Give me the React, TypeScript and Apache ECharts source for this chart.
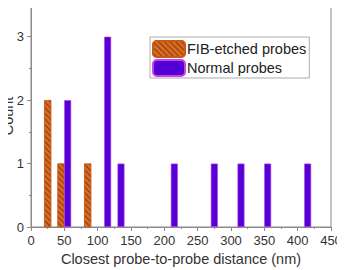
import React, { useEffect, useRef } from "react";
import * as echarts from "echarts";

const fibCenters = [25, 45, 85];
const fibCounts = [2, 1, 1];
const normalCenters = [55, 115, 135, 215, 275, 315, 355, 415];
const normalCounts = [2, 3, 1, 1, 1, 1, 1, 1];
const seriesNames = ["FIB-etched probes", "Normal probes"];
const xTitle = "Closest probe-to-probe distance (nm)";
const yTitle = "Count";

export default function App() {
  const ref = useRef<HTMLDivElement>(null);
  useEffect(() => {
    if (!ref.current) return;
    const chart = echarts.init(ref.current, null, { renderer: "svg" });
    const font = "Liberation Sans, Arial, sans-serif";
    const axisColor = "#8a8a8a";
    chart.setOption({
      animation: false,
      textStyle: { fontFamily: font },
      grid: {
        left: 31,
        right: 14,
        top: 5,
        bottom: 43,
        show: true,
        borderColor: axisColor,
        borderWidth: 1,
        outerBoundsMode: "none",
        containLabel: false,
      },
      graphic: [
        {
          type: "text",
          x: 8,
          y: 116,
          rotation: Math.PI / 2,
          style: {
            text: yTitle,
            fontSize: 14.5,
            fontFamily: font,
            fill: "#333",
            align: "center",
            verticalAlign: "middle",
          },
        },
      ],
      legend: {
        data: seriesNames,
        orient: "vertical",
        left: 150,
        top: 37,
        itemWidth: 32,
        itemHeight: 16,
        itemGap: 1,
        padding: [3, 3, 1, 2],
        borderColor: "#aaaaaa",
        borderWidth: 1,
        textStyle: { fontSize: 14.5, color: "#222", fontFamily: font, padding: [0, 0, 0, -3] },
      },
      xAxis: {
        type: "value",
        min: 0,
        max: 450,
        interval: 50,
        name: xTitle,
        nameLocation: "middle",
        nameGap: 23,
        nameTextStyle: { fontSize: 14.5, color: "#333", fontFamily: font },
        axisLine: { show: true, lineStyle: { color: axisColor } },
        axisTick: { show: true, length: 4, lineStyle: { color: axisColor } },
        minorTick: { show: true, splitNumber: 2, length: 2, lineStyle: { color: axisColor } },
        axisLabel: { fontSize: 13, color: "#333", margin: 7, fontFamily: font },
        splitLine: { show: false },
      },
      yAxis: {
        type: "value",
        min: 0,
        max: 3.5,
        interval: 1,
        axisLine: { show: true, lineStyle: { color: axisColor } },
        axisTick: { show: true, length: 4, lineStyle: { color: axisColor } },
        minorTick: { show: true, splitNumber: 2, length: 2, lineStyle: { color: axisColor } },
        axisLabel: { fontSize: 13, color: "#333", margin: 7, showMaxLabel: false, fontFamily: font },
        splitLine: { show: false },
      },
      series: [
        {
          name: seriesNames[0],
          type: "bar",
          barWidth: 7,
          barGap: "-100%",
          data: fibCenters.map((x, i) => [x, fibCounts[i]]),
          itemStyle: {
            color: "#d86a20",
            borderColor: "#c85a18",
            borderWidth: 0.6,
            decal: {
              symbol: "rect",
              symbolSize: 1,
              dashArrayX: [1, 0],
              dashArrayY: [0.8, 2.4],
              rotation: Math.PI / 4,
              color: "#8a3a10",
            },
          },
        },
        {
          name: seriesNames[1],
          type: "bar",
          barWidth: 7,
          barGap: "-100%",
          data: normalCenters.map((x, i) => [x, normalCounts[i]]),
          itemStyle: {
            color: "#5200d6",
            borderColor: "#d040e0",
            borderWidth: 0.6,
          },
        },
      ],
    });
    return () => chart.dispose();
  }, []);
  return <div ref={ref} style={{ width: 345, height: 270, marginLeft: -8, marginTop: -8 }} />;
}
